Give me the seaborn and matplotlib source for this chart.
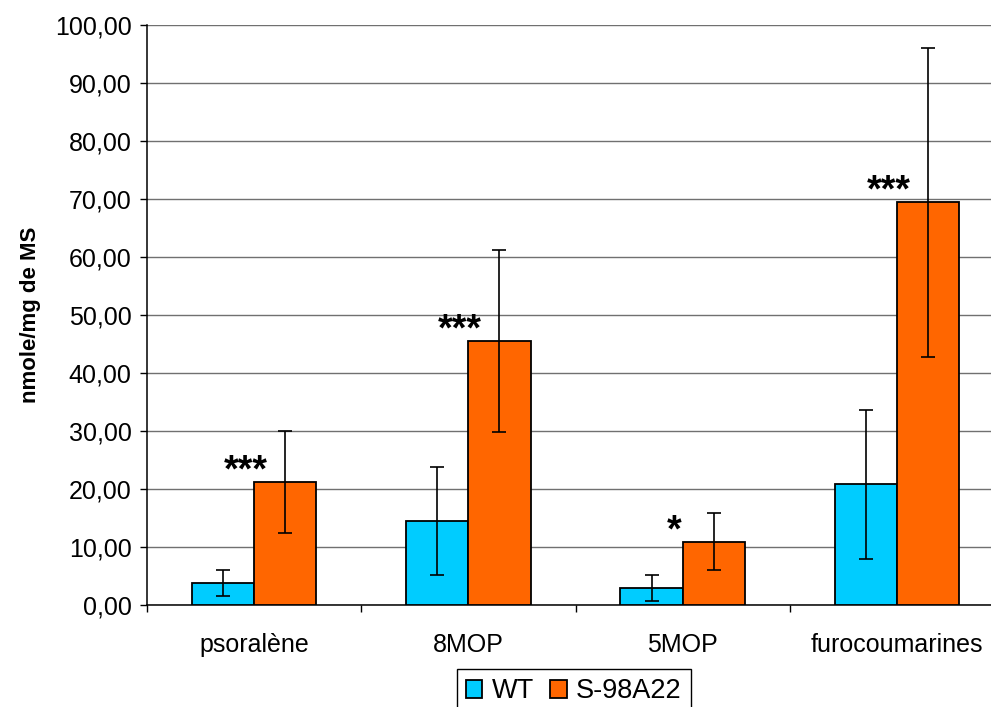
import seaborn as sns
import pandas as pd
import matplotlib.pyplot as plt
from matplotlib.ticker import FuncFormatter, FixedLocator

categories = ['psoralène', '8MOP', '5MOP', 'furocoumarines']
groups = ['WT', 'S-98A22']
wt_values = [3.8, 14.5, 2.9, 20.8]
wt_err = [2.2, 9.3, 2.2, 12.9]
s_values = [21.2, 45.5, 10.9, 69.4]
s_err = [8.8, 15.7, 4.9, 26.6]
stars = ['***', '***', '*', '***']

df = pd.DataFrame({
    'compose': categories * 2,
    'lignee': [groups[0]] * 4 + [groups[1]] * 4,
    'valeur': wt_values + s_values,
})
errs = wt_err + s_err

sns.set_style('white')
plt.rcParams['font.family'] = ['Liberation Sans', 'DejaVu Sans']
plt.rcParams['text.color'] = 'black'
plt.rcParams['axes.labelcolor'] = 'black'
plt.rcParams['xtick.color'] = 'black'
plt.rcParams['ytick.color'] = 'black'

fig = plt.figure(figsize=(9.91, 7.07), dpi=100)
ax = fig.add_axes([147 / 991, 102 / 707, 857 / 991, 580 / 707])

sns.barplot(data=df, x='compose', y='valeur', hue='lignee', order=categories,
            hue_order=groups, palette=['#00CCFF', '#FF6600'], edgecolor='black',
            linewidth=1.3, width=0.58, gap=0, errorbar=None, saturation=1,
            ax=ax, zorder=3)

# barres d'erreur sur chaque barre
bars = [p for p in ax.patches if p.get_height() > 0]
bars = sorted(bars, key=lambda p: p.get_x())
order = []
for i in range(4):
    order += [i, i + 4]
for p, k in zip(bars, order):
    xc = p.get_x() + p.get_width() / 2
    ax.errorbar(xc, df['valeur'][k], yerr=errs[k], fmt='none', ecolor='black',
                elinewidth=1.2, capsize=5, capthick=1.2, zorder=4)

# étoiles de significativité
for i, s in enumerate(stars):
    ax.text(i - 0.04, s_values[i] - 1.25, s, ha='center', va='bottom',
            fontsize=27, fontweight='bold', zorder=5)

ax.set_ylim(0, 100)
ax.set_xlim(-0.5, 3.5)
ax.set_yticks(range(0, 101, 10))
ax.yaxis.set_major_formatter(FuncFormatter(lambda v, _: f'{v:.2f}'.replace('.', ',')))
ax.tick_params(axis='y', labelsize=18, length=5, width=1, color='black',
               direction='out', left=True, pad=6)
ax.tick_params(axis='x', which='major', labelsize=18, length=0, pad=20)
ax.xaxis.set_minor_locator(FixedLocator([-0.5, 0.5, 1.5, 2.5, 3.5]))
ax.tick_params(axis='x', which='minor', length=5, width=1, color='black',
               direction='out', bottom=True)
ax.grid(axis='y', color='#707070', linewidth=1, zorder=0)
ax.set_axisbelow(True)
for side in ['top', 'right']:
    ax.spines[side].set_visible(False)
for side in ['left', 'bottom']:
    ax.spines[side].set_color('black')
    ax.spines[side].set_linewidth(1.1)

ax.set_xlabel('')
ax.set_ylabel('nmole/mg de MS', fontsize=16, fontweight='bold', labelpad=10)

handles, labels = ax.get_legend_handles_labels()
ax.legend(handles, labels, loc='upper center', ncol=2,
          bbox_to_anchor=(574 / 991, 38 / 707), bbox_transform=fig.transFigure,
          borderaxespad=0, fontsize=19.5, frameon=True, fancybox=False,
          edgecolor='black', handlelength=0.6, handleheight=0.6,
          handletextpad=0.35, columnspacing=0.6, borderpad=0.35, framealpha=1)
ax.get_legend().get_frame().set_linewidth(1)

fig.savefig('out.png', dpi=100)
